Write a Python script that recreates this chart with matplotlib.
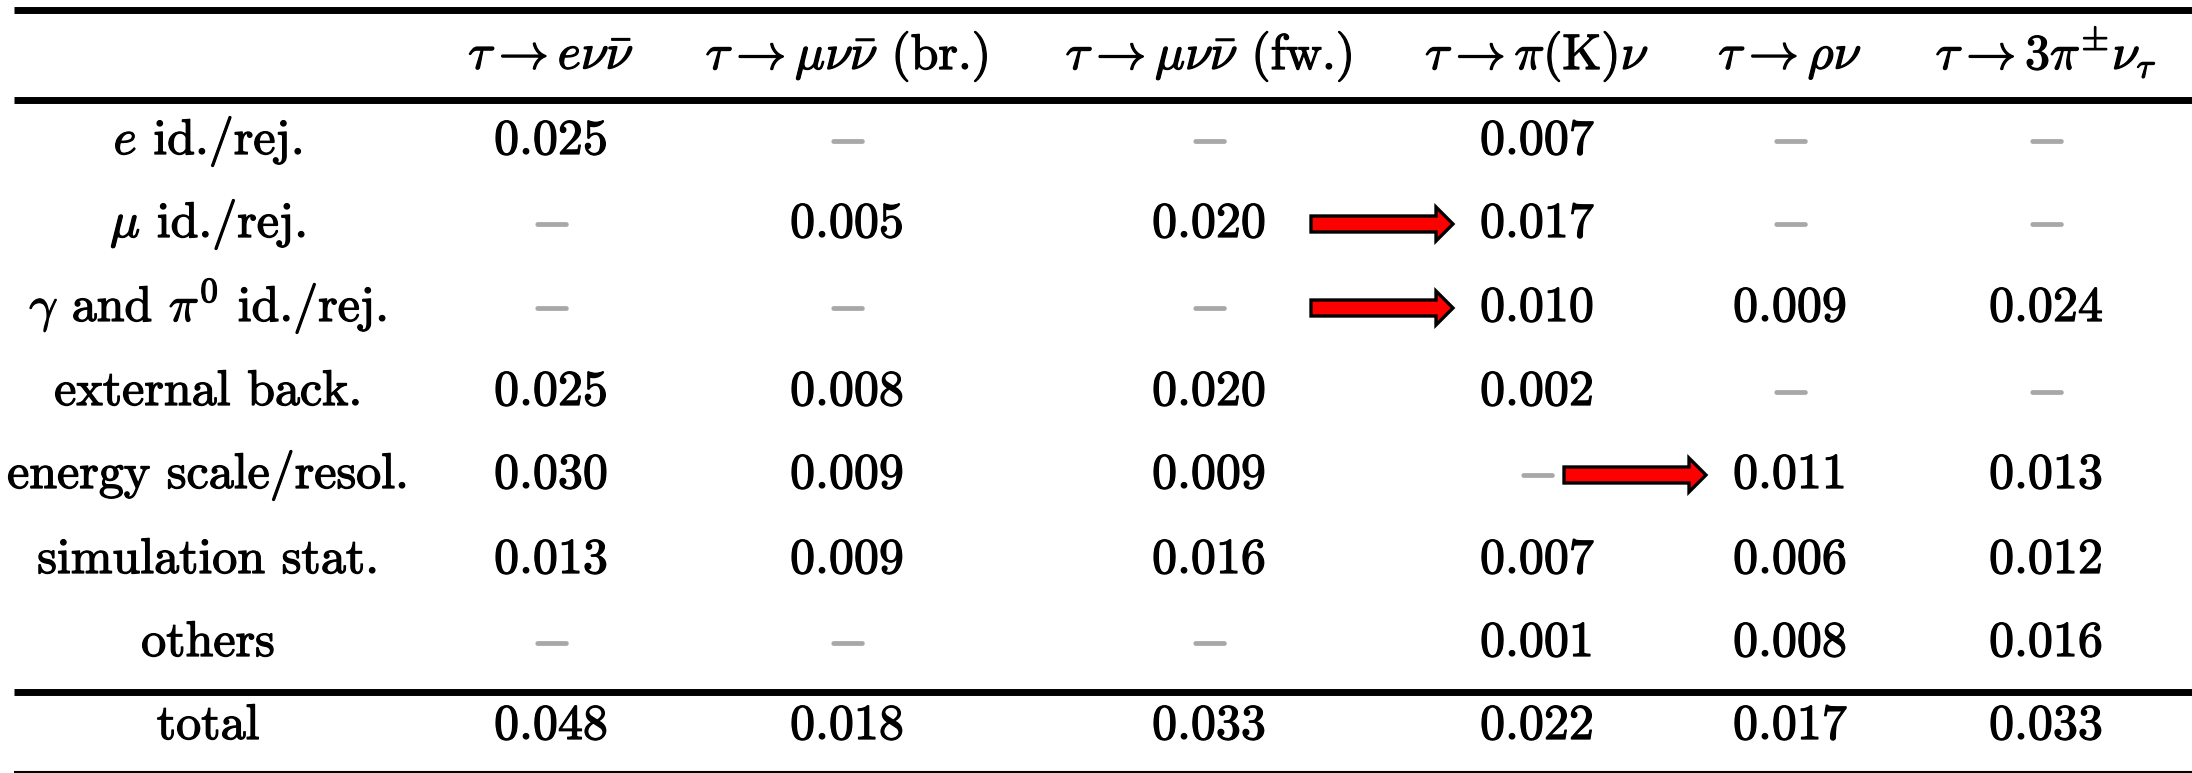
import matplotlib
matplotlib.use("Agg")
import matplotlib.pyplot as plt
import matplotlib.patheffects as pe
from matplotlib.patches import FancyArrow

plt.rcParams['mathtext.fontset'] = 'cm'
plt.rcParams['font.family'] = ['cmr10', 'DejaVu Serif']
plt.rcParams['axes.formatter.use_mathtext'] = True

# ---------------- data ----------------
column_labels = [r'$\tau\to e\nu\bar{\nu}$',
                 r'$\tau\to\mu\nu\bar{\nu}$ (br.)',
                 r'$\tau\to\mu\nu\bar{\nu}$ (fw.)',
                 r'$\tau\to\pi(\mathrm{K})\nu$',
                 r'$\tau\to\rho\nu$',
                 r'$\tau\to 3\pi^{\pm}\nu_{\tau}$']

row_labels = [r'$e$ id./rej.',
              r'$\mu$ id./rej.',
              r'$\gamma$ and $\pi^0$ id./rej.',
              'external back.',
              'energy scale/resol.',
              'simulation stat.',
              'others']

e_idrej = [0.025, None, None, 0.007, None, None]
mu_idrej = [None, 0.005, 0.020, 0.017, None, None]
gamma_pi0_idrej = [None, None, None, 0.010, 0.009, 0.024]
external_back = [0.025, 0.008, 0.020, 0.002, None, None]
energy_scale = [0.030, 0.009, 0.009, None, 0.011, 0.013]
simulation_stat = [0.013, 0.009, 0.016, 0.007, 0.006, 0.012]
others = [None, None, None, 0.001, 0.008, 0.016]
total_label = 'total'
total = [0.048, 0.018, 0.033, 0.022, 0.017, 0.033]

rows_values = [e_idrej, mu_idrej, gamma_pi0_idrej, external_back,
               energy_scale, simulation_stat, others]

# arrows: (row index, from column, to column)
arrows = [(1, 2, 3), (2, 2, 3), (4, 3, 4)]

# ---------------- layout ----------------
W, H = 2192, 773
fig = plt.figure(figsize=(W / 100, H / 100), dpi=100)
ax = fig.add_axes([0, 0, 1, 1])
ax.set_xlim(0, W)
ax.set_ylim(H, 0)
ax.axis('off')

label_x = 208
col_x = [551, 847, 1209, 1537, 1790, 2046]
header_y = 58
row_y = [138, 221, 305, 389, 472, 557, 640]
total_y = 723
FS = 36
DIG_HALF = 16   # half digit height in px (baseline offset)
XH_HALF = 11

bold = [pe.withStroke(linewidth=0.9, foreground='black')]
dash_fx = [pe.withStroke(linewidth=2.0, foreground='#a8a8a8')]

def txt(x, y, s, **kw):
    return ax.text(x, y, s, ha='center', va='baseline', fontsize=FS,
                   color='black', path_effects=bold, **kw)

def cell(x, y, v):
    if v is None:
        ax.text(x, y + DIG_HALF, r'$-$', ha='center', va='baseline',
                fontsize=FS, color='#a8a8a8', path_effects=dash_fx)
    else:
        txt(x, y + DIG_HALF, f'{v:.3f}')

# header
for x, lab in zip(col_x, column_labels):
    txt(x, header_y + XH_HALF, lab)

# body
for y, lab, vals in zip(row_y, row_labels, rows_values):
    txt(label_x, y + DIG_HALF, lab)
    for x, v in zip(col_x, vals):
        cell(x, y, v)

# total
txt(label_x, total_y + DIG_HALF, total_label)
for x, v in zip(col_x, total):
    cell(x, total_y, v)

# rules
x0 = 14
ax.plot([x0, W], [9.5, 9.5], color='black', lw=5.0, solid_capstyle='butt')
ax.plot([x0, W], [99.5, 99.5], color='black', lw=5.0, solid_capstyle='butt')
ax.plot([x0, W], [691.5, 691.5], color='black', lw=5.0, solid_capstyle='butt')
ax.plot([x0, W], [772, 772], color='black', lw=1.5, solid_capstyle='butt')

# arrows
ARROW_LEN = 142
TIP_GAP = 84
for r, c_from, c_to in arrows:
    tip = col_x[c_to] - TIP_GAP
    y = row_y[r] + 3
    ax.add_patch(FancyArrow(tip - ARROW_LEN, y, ARROW_LEN, 0,
                            width=16, head_width=34, head_length=17,
                            length_includes_head=True,
                            facecolor='#ff0000', edgecolor='black',
                            linewidth=2.4, joinstyle='miter'))

fig.savefig('out.png', dpi=100)
